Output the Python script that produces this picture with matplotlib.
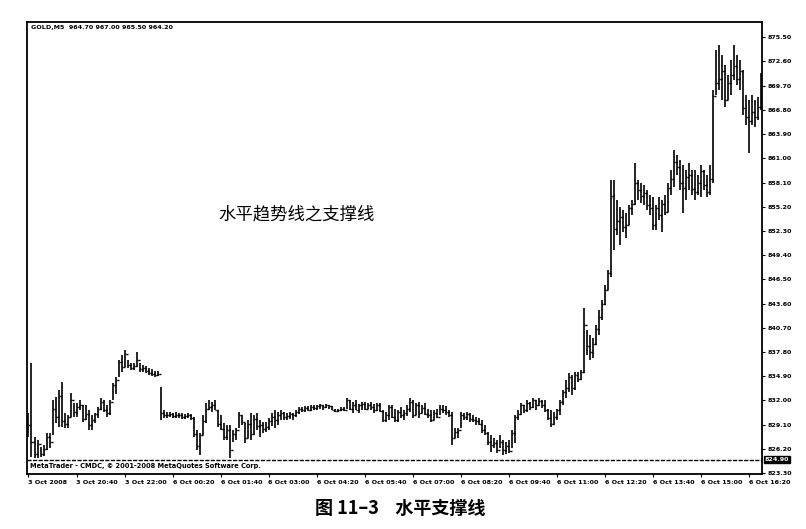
import matplotlib
matplotlib.use('Agg')
import matplotlib.pyplot as plt
import numpy as np

plt.rcParams['font.family'] = ['Noto Sans CJK SC', 'DejaVu Sans']

# GOLD M5 bars (one row = one x-label interval of 16 bars)
highs = [
    830.5, 836.5, 827.6, 827.3, 826.4, 826.7, 828.1, 828.1, 832.0, 832.4, 833.2, 834.2, 830.5, 830.2, 832.9, 831.7,
    831.7, 832.0, 831.4, 831.4, 830.8, 830.2, 830.5, 831.2, 832.3, 832.0, 831.4, 832.0, 834.1, 834.8, 836.8, 837.4,
    838.0, 836.8, 836.5, 836.5, 837.8, 836.5, 836.2, 836.1, 835.9, 835.8, 835.5, 835.5, 833.6, 830.8, 830.6, 830.6,
    830.5, 830.6, 830.5, 830.5, 830.4, 830.5, 830.4, 830.0, 828.5, 828.1, 830.2, 831.7, 832.0, 831.8, 832.0, 830.8,
    830.2, 829.3, 829.0, 829.0, 828.4, 828.7, 830.6, 830.2, 829.3, 829.6, 830.5, 830.2, 830.5, 829.6, 829.4, 829.4,
    829.9, 830.5, 830.8, 830.6, 830.8, 830.6, 830.5, 830.6, 830.5, 830.8, 831.2, 831.2, 831.3, 831.3, 831.4, 831.4,
    831.4, 831.6, 831.4, 831.6, 831.4, 831.3, 831.0, 831.0, 831.2, 831.2, 832.3, 832.0, 831.8, 832.0, 831.6, 831.8,
    831.8, 831.7, 831.8, 831.6, 831.7, 831.7, 830.8, 830.6, 831.4, 831.4, 831.0, 830.8, 831.2, 830.8, 831.4, 832.3,
    832.0, 831.7, 831.8, 831.4, 831.7, 831.0, 830.8, 830.8, 831.0, 831.4, 831.4, 831.3, 830.8, 830.6, 828.7, 828.7,
    830.6, 830.5, 830.6, 830.5, 830.2, 830.0, 829.9, 829.6, 829.0, 828.2, 827.8, 827.5, 827.2, 827.8, 827.2, 827.0,
    827.2, 828.4, 830.2, 830.8, 831.7, 831.4, 832.0, 831.8, 832.3, 832.0, 832.3, 832.0, 832.0, 831.0, 830.8, 830.6,
    831.0, 832.0, 833.2, 834.4, 835.3, 835.0, 835.4, 835.4, 835.6, 843.1, 840.4, 839.8, 839.5, 841.0, 842.8, 844.0,
    845.8, 847.6, 858.4, 858.4, 856.0, 855.2, 854.8, 854.4, 855.4, 856.0, 860.4, 858.4, 858.1, 857.8, 857.2, 856.6,
    856.4, 855.4, 856.4, 856.0, 856.6, 858.1, 859.6, 862.0, 861.4, 860.8, 860.2, 859.6, 860.4, 859.6, 859.6, 859.0,
    860.2, 859.6, 859.0, 860.2, 869.2, 874.0, 874.6, 873.4, 872.2, 871.0, 872.8, 874.6, 873.4, 872.8, 871.6, 868.6,
    868.0, 868.6, 868.0, 868.3, 871.2,
]
lows = [
    827.6, 825.2, 825.1, 825.1, 825.2, 825.3, 826.0, 826.3, 827.8, 829.3, 828.8, 828.8, 828.7, 828.7, 830.0, 830.0,
    830.0, 830.8, 829.4, 829.6, 828.4, 828.4, 829.3, 829.9, 830.8, 830.6, 830.0, 830.2, 832.0, 832.8, 834.8, 835.4,
    836.0, 835.9, 835.6, 835.6, 836.0, 835.4, 835.4, 835.3, 835.0, 834.9, 834.8, 834.9, 829.6, 829.9, 829.9, 830.0,
    829.9, 829.9, 829.9, 829.8, 829.8, 829.9, 829.7, 827.6, 826.1, 825.5, 827.9, 829.3, 830.8, 830.6, 830.8, 828.8,
    828.4, 827.3, 827.3, 825.1, 827.0, 827.3, 828.7, 829.0, 826.9, 827.5, 827.3, 827.9, 828.4, 827.6, 828.1, 828.2,
    828.4, 828.9, 828.7, 829.0, 829.6, 829.6, 829.6, 829.8, 829.6, 830.0, 830.4, 830.6, 830.6, 830.7, 830.7, 830.8,
    830.8, 831.0, 830.8, 831.1, 831.0, 830.8, 830.6, 830.6, 830.7, 830.7, 831.0, 830.8, 830.5, 830.8, 830.5, 830.8,
    830.8, 831.0, 830.8, 830.5, 830.7, 830.6, 829.4, 829.4, 829.6, 829.9, 829.4, 829.4, 829.9, 829.6, 830.1, 830.6,
    829.9, 830.2, 829.9, 830.5, 830.2, 829.9, 829.4, 829.6, 829.9, 830.2, 830.5, 830.2, 830.0, 826.7, 827.5, 827.5,
    828.7, 829.6, 829.6, 829.4, 829.4, 829.0, 829.0, 828.1, 827.9, 826.7, 825.8, 826.3, 825.7, 826.3, 825.5, 825.6,
    825.7, 826.3, 826.9, 829.6, 830.2, 830.5, 830.6, 830.8, 831.1, 830.8, 831.3, 831.1, 830.6, 829.6, 828.8, 829.0,
    829.6, 830.2, 831.4, 832.3, 833.0, 832.6, 833.2, 834.2, 834.4, 835.3, 837.4, 836.8, 837.1, 838.6, 839.8, 841.6,
    843.4, 845.2, 846.8, 850.0, 851.8, 850.6, 852.2, 851.5, 853.0, 854.2, 855.4, 856.0, 855.6, 855.4, 854.8, 854.2,
    852.4, 852.4, 853.6, 852.2, 854.2, 854.6, 856.6, 857.6, 859.0, 857.2, 854.4, 856.0, 857.2, 856.6, 856.0, 856.6,
    856.4, 857.2, 856.4, 856.6, 858.0, 868.6, 869.2, 868.0, 867.2, 868.0, 868.6, 870.4, 869.8, 869.2, 866.2, 865.0,
    861.6, 865.0, 864.8, 865.6, 866.8,
]
closes = [
    829.0, 827.0, 825.6, 826.8, 825.6, 826.2, 827.6, 827.0, 831.0, 830.0, 832.5, 829.5, 829.2, 830.0, 832.0, 830.6,
    831.2, 831.5, 829.8, 830.4, 829.0, 829.6, 830.4, 831.0, 831.8, 830.9, 830.5, 831.8, 833.8, 834.5, 836.6, 836.0,
    837.5, 836.2, 835.9, 836.1, 836.8, 835.7, 835.9, 835.5, 835.3, 835.2, 835.0, 835.2, 830.5, 830.3, 830.2, 830.4,
    830.1, 830.3, 830.2, 830.0, 830.1, 830.2, 829.9, 828.0, 826.5, 827.8, 829.5, 831.0, 831.2, 831.5, 830.9, 829.2,
    828.6, 827.6, 828.5, 826.0, 828.0, 828.5, 830.2, 829.4, 827.5, 829.2, 828.0, 829.8, 828.9, 829.0, 828.6, 828.8,
    829.5, 830.0, 829.6, 830.3, 830.5, 830.0, 830.1, 830.4, 830.2, 830.6, 831.0, 830.9, 831.1, 830.9, 831.2, 831.1,
    831.3, 831.4, 831.2, 831.5, 831.3, 830.9, 830.7, 830.8, 831.0, 830.9, 832.0, 831.0, 831.5, 830.9, 831.4, 831.6,
    831.0, 831.5, 831.2, 830.8, 831.5, 830.7, 829.6, 830.3, 831.2, 830.0, 829.6, 830.6, 830.2, 830.5, 831.0, 831.8,
    830.2, 831.4, 830.5, 831.1, 830.4, 830.3, 829.7, 830.5, 830.0, 831.0, 830.8, 830.6, 830.2, 827.5, 828.2, 828.4,
    830.3, 830.0, 830.4, 829.8, 829.6, 829.5, 829.2, 828.4, 828.1, 827.0, 826.6, 826.9, 826.1, 827.0, 826.0, 826.5,
    825.9, 828.1, 830.0, 830.4, 831.4, 830.8, 831.7, 831.2, 832.0, 831.4, 831.9, 831.5, 830.9, 829.9, 829.2, 830.0,
    830.8, 831.8, 833.0, 833.5, 834.8, 833.5, 835.0, 834.6, 835.4, 841.0, 838.5, 837.8, 838.8, 840.5, 842.0, 843.5,
    845.2, 847.3, 856.5, 852.5, 853.5, 854.0, 852.8, 853.0, 855.0, 855.5, 858.0, 857.2, 856.5, 856.8, 855.4, 855.0,
    853.0, 855.0, 854.2, 855.5, 854.6, 857.5, 858.5, 860.5, 860.0, 858.0, 857.5, 858.8, 859.0, 857.3, 857.0, 858.0,
    859.5, 857.8, 857.0, 858.5, 868.5, 870.0, 870.5, 871.5, 868.0, 870.0, 871.0, 872.0, 870.5, 871.5, 867.0, 866.0,
    865.5, 866.5, 866.0, 867.2, 868.0,
]
first_open = 828.5

x_labels = ['3 Oct 2008', '3 Oct 20:40', '3 Oct 22:00', '6 Oct 00:20', '6 Oct 01:40', '6 Oct 03:00',
            '6 Oct 04:20', '6 Oct 05:40', '6 Oct 07:00', '6 Oct 08:20', '6 Oct 09:40', '6 Oct 11:00',
            '6 Oct 12:20', '6 Oct 13:40', '6 Oct 15:00', '6 Oct 16:20']
y_tick_values = [823.30, 826.20, 829.10, 832.00, 834.90, 837.80, 840.70, 843.60, 846.50, 849.40,
                 852.30, 855.20, 858.10, 861.00, 863.90, 866.80, 869.70, 872.60, 875.50]
support_level = 824.90

W, H = 806, 529
fig = plt.figure(figsize=(W / 100, H / 100), dpi=100)
fig.patch.set_facecolor('white')
# plot frame in pixels: x 27..762, y 22..474
ax = fig.add_axes([27 / W, 1 - 474 / H, (762 - 27) / W, (474 - 22) / H])

x = np.arange(len(closes))
opens = np.r_[first_open, closes[:-1]]
ax.vlines(x, lows, highs, color='black', lw=1.2)
ax.hlines(opens, x - 0.55, x, color='black', lw=1.0)
ax.hlines(closes, x, x + 0.55, color='black', lw=1.0)

ax.set_xlim(-0.5, 244.5)
ax.set_ylim(823.18, 877.33)

# horizontal support line
ax.axhline(support_level, color='black', lw=1.0, ls=(0, (3, 1)))
ax.text(1.004, support_level, '%.2f' % support_level, transform=ax.get_yaxis_transform(),
        ha='left', va='center', fontsize=4.6, fontweight='bold', color='white',
        family='DejaVu Sans',
        bbox=dict(boxstyle='square,pad=0.15', fc='black', ec='black'))

ax.yaxis.tick_right()
ax.set_yticks(y_tick_values)
ax.set_yticklabels(['%.2f' % v for v in y_tick_values])
ax.tick_params(axis='y', length=2, width=0.8, pad=2, labelsize=4.6)
ax.set_xticks(x[::16])
ax.set_xticklabels(x_labels)
ax.tick_params(axis='x', length=2, width=0.8, pad=2, labelsize=4.6)
for lbl in ax.get_xticklabels():
    lbl.set_horizontalalignment('left')
    lbl.set_fontweight('bold')
    lbl.set_family('DejaVu Sans')
for lbl in ax.get_yticklabels():
    lbl.set_fontweight('bold')
    lbl.set_family('DejaVu Sans')

for s in ax.spines.values():
    s.set_linewidth(1.3)

fig.text(31 / W, 1 - 28 / H, 'GOLD,M5  964.70 967.00 965.50 964.20', fontsize=4.6,
         fontweight='bold', family='DejaVu Sans', va='center', ha='left')
fig.text(30 / W, 1 - 466 / H, 'MetaTrader - CMDC, \u00a9 2001-2008 MetaQuotes Software Corp.',
         fontsize=4.8, fontweight='bold', family='DejaVu Sans', va='center', ha='left')

fig.text(218 / W, 1 - 214 / H, '水平趋势线之支撑线', fontsize=12.5, va='center', ha='left')
fig.text(400 / W, 1 - 508 / H, '图 11\u20133    水平支撑线', fontsize=13, fontweight='bold',
         va='center', ha='center')

fig.savefig('out.png', dpi=100)
